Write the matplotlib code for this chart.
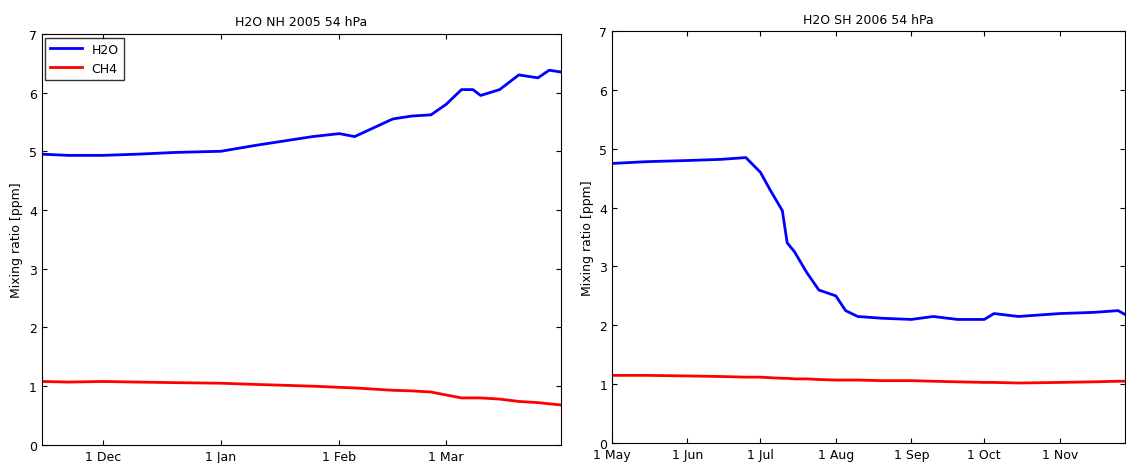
import numpy as np
import matplotlib.pyplot as plt
import matplotlib.dates as mdates

# ---- NH 2005/2006 ----
nh_dates = ['2005-11-15', '2005-11-22', '2005-12-01', '2005-12-10', '2005-12-20', '2006-01-01',
            '2006-01-10', '2006-01-15', '2006-01-25', '2006-02-01', '2006-02-05', '2006-02-10',
            '2006-02-15', '2006-02-20', '2006-02-25', '2006-03-01', '2006-03-05', '2006-03-08',
            '2006-03-10', '2006-03-15', '2006-03-20', '2006-03-25', '2006-03-28', '2006-03-31']
nh_h2o = [4.95, 4.93, 4.93, 4.95, 4.98, 5.0, 5.1, 5.15, 5.25, 5.3, 5.25, 5.4,
          5.55, 5.6, 5.62, 5.8, 6.05, 6.05, 5.95, 6.05, 6.3, 6.25, 6.38, 6.35]
nh_ch4 = [1.08, 1.07, 1.08, 1.07, 1.06, 1.05, 1.03, 1.02, 1.0, 0.98, 0.97, 0.95,
          0.93, 0.92, 0.9, 0.85, 0.8, 0.8, 0.8, 0.78, 0.74, 0.72, 0.7, 0.68]

# ---- SH 2006 ----
sh_dates = ['2006-05-01', '2006-05-15', '2006-06-01', '2006-06-15', '2006-06-25', '2006-07-01',
            '2006-07-05', '2006-07-10', '2006-07-12', '2006-07-15', '2006-07-20', '2006-07-25',
            '2006-08-01', '2006-08-05', '2006-08-10', '2006-08-20', '2006-09-01', '2006-09-10',
            '2006-09-20', '2006-10-01', '2006-10-05', '2006-10-15', '2006-11-01', '2006-11-15',
            '2006-11-25', '2006-11-28']
sh_h2o = [4.75, 4.78, 4.8, 4.82, 4.85, 4.6, 4.3, 3.95, 3.4, 3.25, 2.9, 2.6,
          2.5, 2.25, 2.15, 2.12, 2.1, 2.15, 2.1, 2.1, 2.2, 2.15, 2.2, 2.22, 2.25, 2.18]
sh_ch4 = [1.15, 1.15, 1.14, 1.13, 1.12, 1.12, 1.11, 1.1, 1.1, 1.09, 1.09, 1.08,
          1.07, 1.07, 1.07, 1.06, 1.06, 1.05, 1.04, 1.03, 1.03, 1.02, 1.03, 1.04, 1.05, 1.05]

nh_d = np.array(nh_dates, dtype='datetime64[D]')
sh_d = np.array(sh_dates, dtype='datetime64[D]')

plt.rcParams['font.size'] = 9
fig = plt.figure(figsize=(11.26, 4.64), dpi=100)
ax1 = fig.add_axes([0.037, 0.039, 0.461, 0.886])
ax2 = fig.add_axes([0.5435, 0.043, 0.456, 0.888])

ax1.plot(nh_d, nh_h2o, color='#0000ff', lw=2, label='H2O')
ax1.plot(nh_d, nh_ch4, color='#ff0000', lw=2, label='CH4')
ax1.set_xlim(np.datetime64('2005-11-15'), np.datetime64('2006-03-31'))
ax1.set_xticks(np.array(['2005-12-01', '2006-01-01', '2006-02-01', '2006-03-01'], dtype='datetime64[D]'))
ax1.set_title('H2O NH 2005 54 hPa', fontsize=9)
ax1.legend(loc='upper left', fontsize=9, fancybox=False, edgecolor='black',
           borderaxespad=0.3, handlelength=2.5)

ax2.plot(sh_d, sh_h2o, color='#0000ff', lw=2)
ax2.plot(sh_d, sh_ch4, color='#ff0000', lw=2)
ax2.set_xlim(np.datetime64('2006-05-01'), np.datetime64('2006-11-28'))
ax2.set_xticks(np.array(['2006-05-01', '2006-06-01', '2006-07-01', '2006-08-01', '2006-09-01',
                         '2006-10-01', '2006-11-01'], dtype='datetime64[D]'))
ax2.set_title('H2O SH 2006 54 hPa', fontsize=9)

for ax in (ax1, ax2):
    ax.set_ylim(0, 7)
    ax.set_ylabel('Mixing ratio [ppm]')
    ax.xaxis.set_major_formatter(mdates.DateFormatter('1 %b'))
    ax.tick_params(direction='in', top=True, right=True, labelsize=9)

fig.savefig('out.png', dpi=100)
